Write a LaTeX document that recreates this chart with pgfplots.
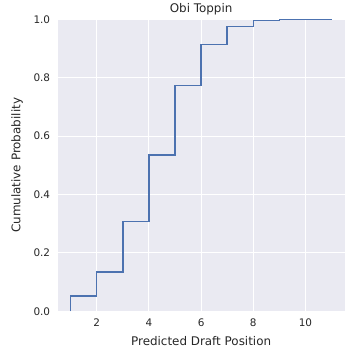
\documentclass[border=0pt]{standalone}
\usepackage{pgfplots}
\pgfplotsset{compat=1.18}
\usepackage{fontspec}
\setmainfont{DejaVu Sans}
\definecolor{bgc}{HTML}{EAEAF2}
\definecolor{linec}{HTML}{4C72B0}
\definecolor{txt}{HTML}{262626}
\begin{document}
\begin{tikzpicture}
\begin{axis}[
  at={(0pt,0pt)}, anchor=south west,
  scale only axis, width=289pt, height=294pt,
  xmin=0.5, xmax=11.5, ymin=0, ymax=1,
  xtick={2,4,6,8,10}, ytick={0,0.2,0.4,0.6,0.8,1.0},
  yticklabel style={xshift=-4pt, /pgf/number format/.cd, fixed, fixed zerofill, precision=1},
  /pgf/number format/assume math mode=true,
  axis background/.style={fill=bgc},
  axis line style={draw=none},
  major tick length=0pt,
  grid=major, major grid style={white, line width=1pt},
  tick label style={font=\fontsize{10.5}{12}\selectfont, text=txt},
  label style={font=\fontsize{12}{14}\selectfont, text=txt},
  title style={font=\fontsize{12}{14}\selectfont, text=txt, yshift=-5pt},
  xlabel={Predicted Draft Position},
  ylabel={Cumulative Probability},
  title={Obi Toppin},
  xticklabel style={yshift=-4pt},
  xlabel style={yshift=-3pt},
  ylabel style={yshift=4pt},
]
\addplot[const plot, color=linec, line width=1.5pt] coordinates {
(1,0) (1,0.052) (2,0.134) (3,0.307) (4,0.535) (5,0.774) (6,0.913) (7,0.975) (8,0.996) (9,0.999) (10,1.0) (11,1.0)
};
\end{axis}
\path[use as bounding box] (-58pt,-49pt) rectangle (302pt,311pt);
\end{tikzpicture}
\end{document}
